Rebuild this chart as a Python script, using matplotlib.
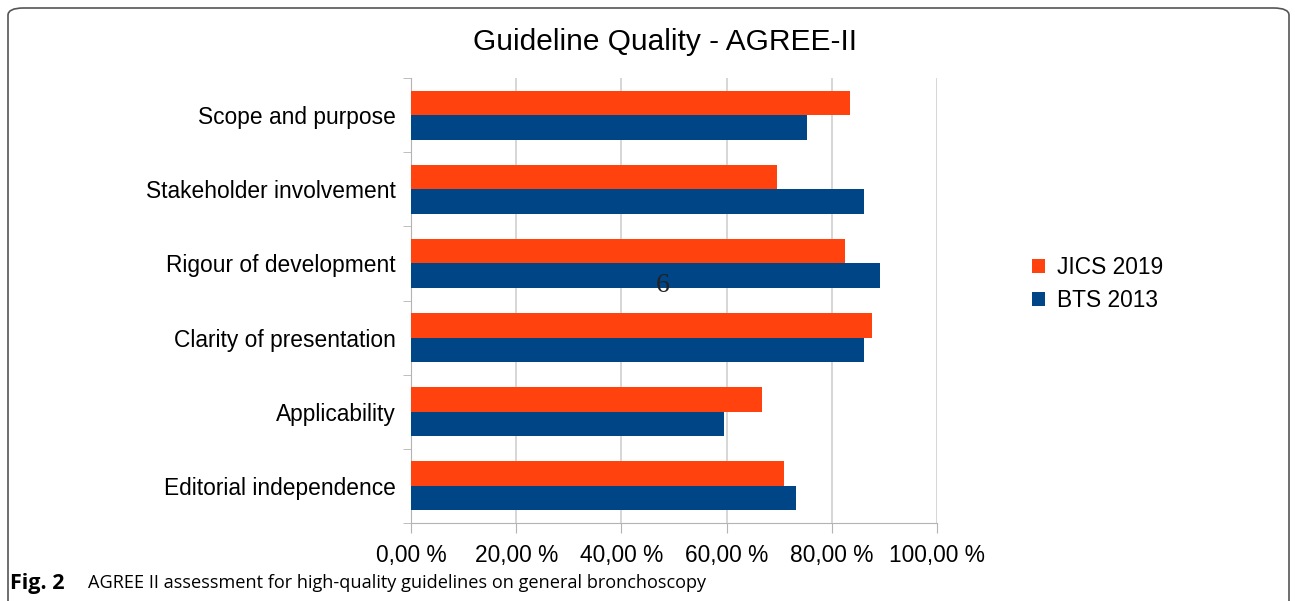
import matplotlib
matplotlib.use('Agg')
import matplotlib.pyplot as plt
from matplotlib.patches import FancyBboxPatch
import numpy as np

# Dados (percentual AGREE-II por domínio)
dominios = ['Scope and purpose', 'Stakeholder involvement', 'Rigour of development',
            'Clarity of presentation', 'Applicability', 'Editorial independence']
jics_2019 = [83.4, 69.5, 82.5, 87.6, 66.8, 71.0]
bts_2013 = [75.2, 86.2, 89.2, 86.2, 59.5, 73.1]
xticks = [0, 20, 40, 60, 80, 100]
xtick_labels = ['0,00 %', '20,00 %', '40,00 %', '60,00 %', '80,00 %', '100,00 %']

plt.rcParams['font.family'] = ['Liberation Sans', 'DejaVu Sans']

fig = plt.figure(figsize=(12.95, 6.01), dpi=100)
ax = fig.add_axes([411 / 1295, 1 - 523 / 601, (937 - 411) / 1295, (523 - 78) / 601])

y = np.arange(len(dominios))
h = 0.33
ax.barh(y - h / 2, jics_2019, height=h, color='#ff420e', label='JICS 2019', zorder=3)
ax.barh(y + h / 2, bts_2013, height=h, color='#004586', label='BTS 2013', zorder=3)

ax.set_xlim(0, 100)
ax.set_ylim(len(dominios) - 0.5, -0.5)
ax.set_xticks(xticks)
ax.set_xticklabels(xtick_labels, fontsize=16.4)
ax.set_yticks(y)
ax.set_yticklabels(dominios, fontsize=16.4)
ax.tick_params(axis='y', length=0, pad=11)
ax.tick_params(axis='x', length=7, color='#b3b3b3', pad=8)
# marcas entre categorias no eixo y
ax.set_yticks(np.arange(-0.5, len(dominios), 1), minor=True)
ax.tick_params(axis='y', which='minor', length=6, color='#b3b3b3')
ax.grid(axis='x', color='#d0d0d0', linewidth=1.2, zorder=0)
for s in ['top', 'right']:
    ax.spines[s].set_visible(False)
ax.spines['left'].set_color('#b3b3b3')
ax.spines['bottom'].set_color('#b3b3b3')

fig.text(663 / 1295, 1 - 285 / 601, '6', fontsize=20, family='Liberation Serif',
         ha='center', va='center', color='#222222')

fig.text(665 / 1295, 1 - 42 / 601, 'Guideline Quality - AGREE-II', fontsize=21.5,
         ha='center', va='center')

fig.legend(loc='center left', bbox_to_anchor=(1011 / 1295, 1 - 284 / 601), frameon=False,
           fontsize=16.4, handlelength=0.6, handleheight=0.6, handletextpad=0.5,
           labelspacing=0.45)

# moldura da figura (estilo revista)
moldura = FancyBboxPatch((8 / 1295, -0.05), (1289 - 8) / 1295, 1.05 - 8 / 601,
                         boxstyle='round,pad=0,rounding_size=0.012',
                         transform=fig.transFigure, fill=False,
                         edgecolor='#555555', linewidth=1.2)
fig.patches.append(moldura)

fig.text(10 / 1295, 1 - 583 / 601, 'Fig. 2', fontsize=15.5, va='center',
         fontweight='bold', family='Open Sans')
fig.text(88 / 1295, 1 - 583 / 601,
         'AGREE II assessment for high-quality guidelines on general bronchoscopy',
         fontsize=13.1, va='center', family='Open Sans')

plt.savefig('out.png', dpi=100)
